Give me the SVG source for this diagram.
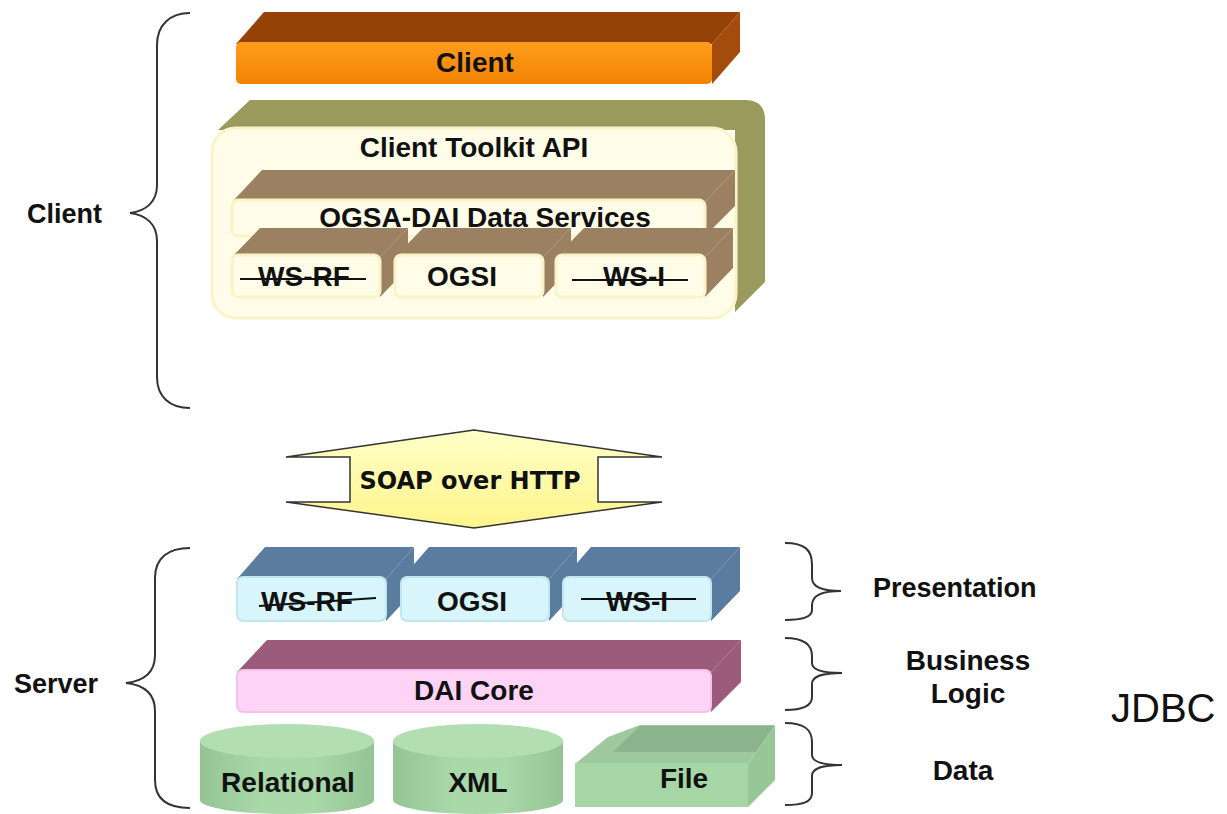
<svg xmlns="http://www.w3.org/2000/svg" width="1227" height="814" viewBox="0 0 1227 814">
  <defs>
    <style>
      .lbl { font-family: "Liberation Sans", Arial, sans-serif; font-weight: bold; font-size: 28px; fill: #111; text-anchor: middle; }
      .side { font-family: "Liberation Sans", Arial, sans-serif; font-weight: bold; font-size: 27px; fill: #111; }
      .brace { fill: none; stroke: #333; stroke-width: 2; }
      .strike { stroke: #111; stroke-width: 2; }
      .cl-top { fill: #944206; }
      .cl-side { fill: #a34c0b; }
      .olive { fill: #9a9a5d; }
      .taupe { fill: #9b8062; }
      .cream { fill: #fffde7; stroke: #fbf3c8; stroke-width: 3; }
      .blue { fill: #5a7d9f; }
      .cyan { fill: #d7f5fa; stroke: #c2e6ee; stroke-width: 2; }
      .mauve { fill: #9b5b7b; }
      .pink { fill: #fdd3f6; stroke: #f2c2ea; stroke-width: 2; }
      .gtop { fill: #b2deb2; }
    </style>
    <linearGradient id="orangeFront" x1="0" y1="0" x2="0" y2="1">
      <stop offset="0" stop-color="#ff9c1e"/>
      <stop offset="1" stop-color="#f28300"/>
    </linearGradient>
    <linearGradient id="cylBody" x1="0" y1="0" x2="1" y2="0">
      <stop offset="0" stop-color="#94c494"/>
      <stop offset="0.35" stop-color="#a9d8a9"/>
      <stop offset="0.65" stop-color="#a9d8a9"/>
      <stop offset="1" stop-color="#94c494"/>
    </linearGradient>
    <linearGradient id="soapFill" x1="0" y1="0" x2="0" y2="1">
      <stop offset="0" stop-color="#ffffc8"/>
      <stop offset="1" stop-color="#fdf58a"/>
    </linearGradient>
  </defs>

  <rect width="1227" height="814" fill="#ffffff"/>

  <!-- side braces and tier labels -->
  <g id="braces">
    <path class="brace" d="M190,13 C170,13 157,25 157,45 L157,185 C157,202 146,211 130,213 C146,215 157,224 157,241 L157,377 C157,397 170,408 190,408"/>
    <path class="brace" d="M190,548 C168,548 155,558 155,578 L155,655 C155,672 144,681 126,683 C144,685 155,694 155,711 L155,780 C155,800 168,808 190,808"/>
    <path class="brace" d="M785,543 C805,543 812,550 812,565 L812,578 C812,587 822,591 841,591 C822,591 812,596 812,605 L812,610 C812,617 803,620 785,620"/>
    <path class="brace" d="M785,638 C805,638 812,645 812,656 L812,663 C812,670 822,673 842,673 C822,673 812,676 812,684 L812,697 C812,706 803,710 785,710"/>
    <path class="brace" d="M785,723 C805,723 812,730 812,742 L812,755 C812,762 822,765 842,765 C822,765 812,768 812,776 L812,793 C812,802 803,805 785,805"/>
  </g>

  <g id="label-client"><text class="side" x="27" y="223">Client</text></g>
  <g id="label-server"><text class="side" x="14" y="693">Server</text></g>
  <g id="label-presentation"><text class="side" x="873" y="597" font-size="28">Presentation</text></g>
  <g id="label-business"><text class="lbl" x="968" y="670" font-size="27">Business</text><text class="lbl" x="968" y="703" font-size="27">Logic</text></g>
  <g id="label-data"><text class="lbl" x="963" y="780" font-size="27">Data</text></g>
  <g id="label-jdbc"><text x="1111" y="722" font-family="Liberation Sans, Arial, sans-serif" font-size="40" fill="#111">JDBC</text></g>

  <!-- client application bar -->
  <g id="client-bar">
    <polygon class="cl-top" points="236,44 264,12 740,12 712,44"/>
    <polygon class="cl-side" points="712,44 740,12 740,52 712,84"/>
    <rect x="236" y="42" width="476" height="42" rx="5" fill="url(#orangeFront)"/>
    <text class="lbl" x="475" y="72">Client</text>
  </g>

  <!-- client toolkit container -->
  <g id="toolkit">
    <path class="olive" d="M218,130 L250,100 H745 Q765,100 765,120 V282 L735,312 V130 Z"/>
    <rect class="cream" x="212" y="128" width="524" height="190" rx="24" fill="#fffbd6" stroke="#fbf2bf"/>
    <text class="lbl" x="474" y="157">Client Toolkit API</text>
  </g>

  <g id="data-services">
    <polygon class="taupe" points="232,202 262,170 735,170 705,202"/>
    <polygon class="taupe" points="705,202 735,170 735,206 705,236"/>
    <rect class="cream" x="232" y="200" width="473" height="36" rx="6"/>
    <text class="lbl" x="485" y="227">OGSA-DAI Data Services</text>
  </g>

  <g id="client-wsrf">
    <polygon class="taupe" points="232,257 260,228 408,228 380,257"/>
    <polygon class="taupe" points="380,257 408,228 408,268 380,297"/>
    <rect class="cream" x="232" y="255" width="148" height="42" rx="6"/>
    <text class="lbl" x="304" y="286">WS-RF</text>
    <line class="strike" x1="240" y1="279" x2="366" y2="279"/>
  </g>
  <g id="client-ogsi">
    <polygon class="taupe" points="395,257 423,228 571,228 543,257"/>
    <polygon class="taupe" points="543,257 571,228 571,268 543,297"/>
    <rect class="cream" x="395" y="255" width="148" height="42" rx="6"/>
    <text class="lbl" x="462" y="286">OGSI</text>
  </g>
  <g id="client-wsi">
    <polygon class="taupe" points="556,257 584,228 733,228 705,257"/>
    <polygon class="taupe" points="705,257 733,228 733,268 705,297"/>
    <rect class="cream" x="556" y="255" width="149" height="42" rx="6"/>
    <text class="lbl" x="634" y="286">WS-I</text>
    <line class="strike" x1="572" y1="280" x2="688" y2="280"/>
  </g>

  <!-- transport between client and server -->
  <g id="soap">
    <polygon points="474,430 662,457 598,457 598,502 662,502 474,528 286,502 350,502 350,457 286,457" fill="url(#soapFill)" stroke="#333" stroke-width="1.5"/>
    <text x="470" y="489" font-family="DejaVu Sans, sans-serif" font-weight="bold" font-size="24" fill="#111" text-anchor="middle">SOAP over HTTP</text>
  </g>

  <!-- server presentation tier -->
  <g id="server-wsrf">
    <polygon class="blue" points="237,579 265,547 414,547 386,579"/>
    <polygon class="blue" points="386,579 414,547 414,591 386,621"/>
    <rect class="cyan" x="237" y="577" width="149" height="44" rx="6"/>
    <text class="lbl" x="307" y="611">WS-RF</text>
    <line class="strike" x1="259" y1="606" x2="376" y2="598"/>
  </g>
  <g id="server-ogsi">
    <polygon class="blue" points="401,579 429,547 577,547 549,579"/>
    <polygon class="blue" points="549,579 577,547 577,591 549,621"/>
    <rect class="cyan" x="401" y="577" width="148" height="44" rx="6"/>
    <text class="lbl" x="472" y="611">OGSI</text>
  </g>
  <g id="server-wsi">
    <polygon class="blue" points="563,579 591,547 740,547 711,579"/>
    <polygon class="blue" points="711,579 740,547 740,591 711,621"/>
    <rect class="cyan" x="563" y="577" width="148" height="44" rx="6"/>
    <text class="lbl" x="637" y="611">WS-I</text>
    <line class="strike" x1="581" y1="599" x2="696" y2="599"/>
  </g>

  <!-- server business tier -->
  <g id="dai-core">
    <polygon class="mauve" points="237,672 267,640 741,640 711,672"/>
    <polygon class="mauve" points="711,672 741,640 741,682 711,712"/>
    <rect class="pink" x="237" y="670" width="474" height="42" rx="6"/>
    <text class="lbl" x="474" y="700">DAI Core</text>
  </g>

  <!-- server data tier -->
  <g id="relational">
    <path d="M200,741 V800 A87,14 0 0 0 374,800 V741 Z" fill="url(#cylBody)"/>
    <ellipse class="gtop" cx="287" cy="741" rx="87" ry="17"/>
    <text class="lbl" x="288" y="792">Relational</text>
  </g>
  <g id="xml">
    <path d="M393,741 V800 A85,14 0 0 0 563,800 V741 Z" fill="url(#cylBody)"/>
    <ellipse class="gtop" cx="478" cy="741" rx="85" ry="17"/>
    <text class="lbl" x="478" y="792">XML</text>
  </g>
  <g id="file">
    <polygon points="575,764 608,737 640,725 775,725 748,764" fill="#9ec89e"/>
    <polygon points="613,752 640,726 774,726 756,752" fill="#8cb48c"/>
    <polygon points="748,764 775,725 775,780 748,807" fill="#97c697"/>
    <rect x="575" y="763" width="173" height="44" fill="#a6d6a6"/>
    <text class="lbl" x="684" y="788">File</text>
  </g>
</svg>
